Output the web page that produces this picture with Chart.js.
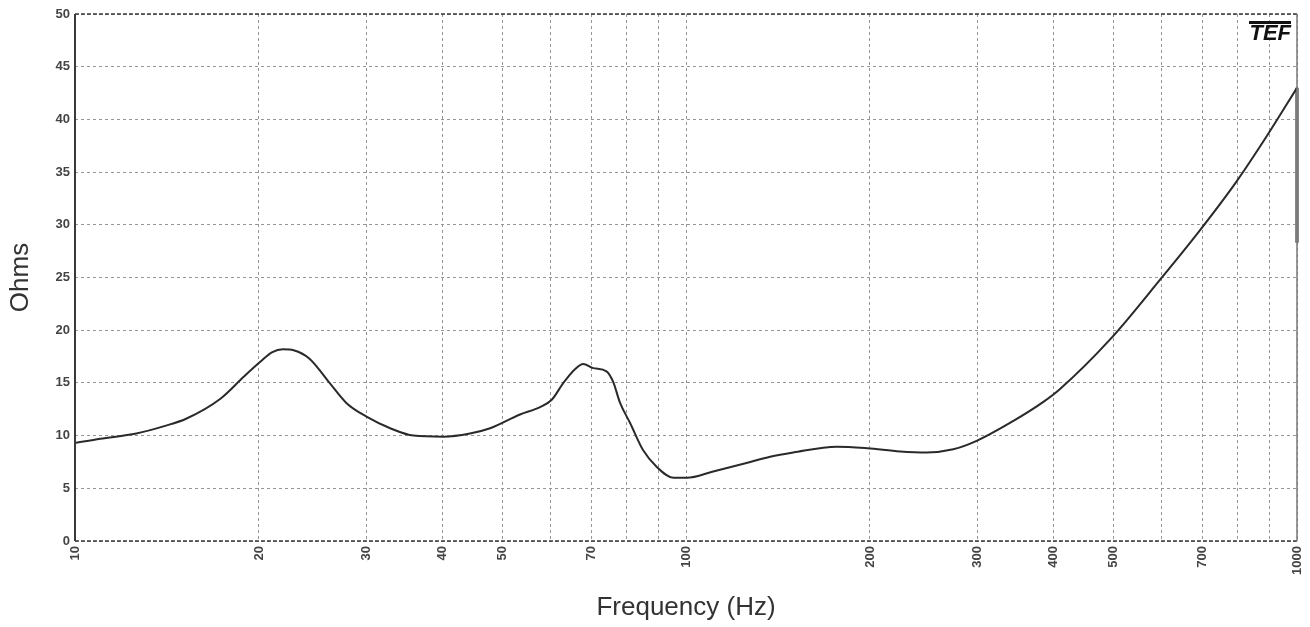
<!DOCTYPE html>
<html lang="en">
<head>
    <meta charset="UTF-8">
    <title>Impedance</title>
    <script src="https://cdn.jsdelivr.net/npm/chart.js"></script>
    <style>
        html, body { margin: 0; padding: 0; background: #fff; overflow: hidden; }
        canvas { display: block; }
    </style>
</head>
<body>
    <canvas id="impChart" width="1310" height="627"></canvas>

    <script>
        // impedance curve
        const freqHz = [10, 11, 12.6, 14, 15.2, 17.3, 18.9, 20.1, 21, 21.9, 22.8, 24.2, 26.1, 27.8, 30,
            32.8, 35.8, 40.1, 44.3, 47.8, 53.5, 57.7, 60.3, 63, 65.8, 67.9, 70.5, 74.1, 76, 78, 81,
            85.1, 89.5, 95.4, 100.3, 110.8, 125.6, 137.3, 149.8, 176.5, 198, 224, 247.6, 273.8, 299,
            339, 384.5, 409, 494, 597, 694, 796, 892, 1000];
        const ohms = [9.3, 9.7, 10.2, 10.9, 11.6, 13.5, 15.6, 17.0, 17.9, 18.2, 18.1, 17.3, 15.0, 13.1, 11.8,
            10.7, 10.0, 9.9, 10.2, 10.7, 12.0, 12.7, 13.4, 15.0, 16.3, 16.8, 16.4, 16.1, 15.1, 13.1, 11.2,
            8.6, 7.05, 6.0, 6.0, 6.6, 7.4, 8.0, 8.4, 8.95, 8.8, 8.5, 8.4, 8.7, 9.5,
            11.2, 13.2, 14.4, 19.1, 24.8, 29.5, 34.1, 38.4, 43.0];

        // grey cursor bar at the right edge
        const cursorHz = [1000, 1000];
        const cursorOhms = [43.0, 28.3];

        const gridFreqs = [10, 20, 30, 40, 50, 60, 70, 80, 90, 100, 200, 300, 400, 500, 600, 700, 800, 900, 1000];
        const labeledFreqs = [10, 20, 30, 40, 50, 70, 100, 200, 300, 400, 500, 700, 1000];

        const frameAndLogo = {
            id: 'frameAndLogo',
            beforeDraw(chart) {
                const ctx = chart.ctx;
                ctx.save();
                ctx.fillStyle = '#fff';
                ctx.fillRect(0, 0, chart.width, chart.height);
                ctx.restore();
            },
            afterDatasetsDraw(chart) {
                const { ctx, chartArea: a } = chart;
                ctx.save();
                // top + bottom: dark dashed
                ctx.strokeStyle = '#3a3a3a';
                ctx.lineWidth = 1.5;
                ctx.setLineDash([4, 2]);
                ctx.beginPath();
                ctx.moveTo(a.left, a.top); ctx.lineTo(a.right, a.top);
                ctx.moveTo(a.left, a.bottom); ctx.lineTo(a.right, a.bottom);
                ctx.stroke();
                // left solid
                ctx.setLineDash([]);
                ctx.lineWidth = 2;
                ctx.beginPath();
                ctx.moveTo(a.left, a.top); ctx.lineTo(a.left, a.bottom);
                ctx.stroke();
                // right solid grey
                ctx.strokeStyle = '#777';
                ctx.lineWidth = 1.5;
                ctx.beginPath();
                ctx.moveTo(a.right, a.top); ctx.lineTo(a.right, a.bottom);
                ctx.stroke();
                // TEF mark
                ctx.fillStyle = '#111';
                ctx.font = 'italic bold 22px "Liberation Sans", Arial, sans-serif';
                ctx.textAlign = 'right';
                ctx.textBaseline = 'middle';
                ctx.fillText('TEF', a.right - 6, a.top + 20);
                ctx.fillRect(a.right - 48, a.top + 7, 42, 3);
                ctx.restore();
            }
        };

        const tickFont = { family: '"Liberation Sans", Arial, sans-serif', size: 13, weight: 'bold' };
        const titleFont = { family: '"Liberation Sans", Arial, sans-serif', size: 26 };

        const ctx = document.getElementById('impChart').getContext('2d');
        new Chart(ctx, {
            type: 'line',
            data: {
                datasets: [{
                    data: freqHz.map((f, i) => ({ x: f, y: ohms[i] })),
                    borderColor: '#2a2a2a',
                    borderWidth: 2,
                    pointRadius: 0,
                    cubicInterpolationMode: 'monotone',
                    fill: false,
                }, {
                    data: cursorHz.map((f, i) => ({ x: f, y: cursorOhms[i] })),
                    borderColor: '#888',
                    borderWidth: 4,
                    pointRadius: 0,
                    tension: 0,
                    clip: false,
                }],
            },
            options: {
                responsive: false,
                animation: false,
                devicePixelRatio: 1,
                layout: { padding: { left: 1, right: 13, top: 14, bottom: 0 } },
                plugins: {
                    legend: { display: false },
                    tooltip: { enabled: false },
                },
                scales: {
                    x: {
                        type: 'logarithmic',
                        min: 10,
                        max: 1000,
                        afterBuildTicks: (scale) => { scale.ticks = gridFreqs.map(v => ({ value: v })); },
                        afterFit: (scale) => {
                            scale.height = 86;
                            scale.paddingLeft = 0;
                            scale.paddingRight = 0;
                        },
                        grid: { color: '#9a9494', lineWidth: 1, drawTicks: false },
                        border: { display: false, dash: [3, 3] },
                        ticks: {
                            autoSkip: false,
                            minRotation: 90,
                            maxRotation: 90,
                            padding: 5,
                            color: '#444',
                            font: tickFont,
                            callback: (v) => labeledFreqs.includes(v) ? String(v) : '',
                        },
                        title: {
                            display: true,
                            text: 'Frequency (Hz)',
                            color: '#333',
                            font: titleFont,
                        },
                    },
                    y: {
                        min: 0,
                        max: 50,
                        afterFit: (scale) => {
                            scale.width = 74;
                            scale.paddingTop = 0;
                            scale.paddingBottom = 0;
                        },
                        grid: { color: '#9a9494', lineWidth: 1, drawTicks: false },
                        border: { display: false, dash: [3, 3] },
                        ticks: {
                            stepSize: 5,
                            padding: 5,
                            color: '#444',
                            font: tickFont,
                        },
                        title: {
                            display: true,
                            text: 'Ohms',
                            color: '#333',
                            font: titleFont,
                        },
                    },
                },
            },
            plugins: [frameAndLogo],
        });
    </script>
</body>
</html>
